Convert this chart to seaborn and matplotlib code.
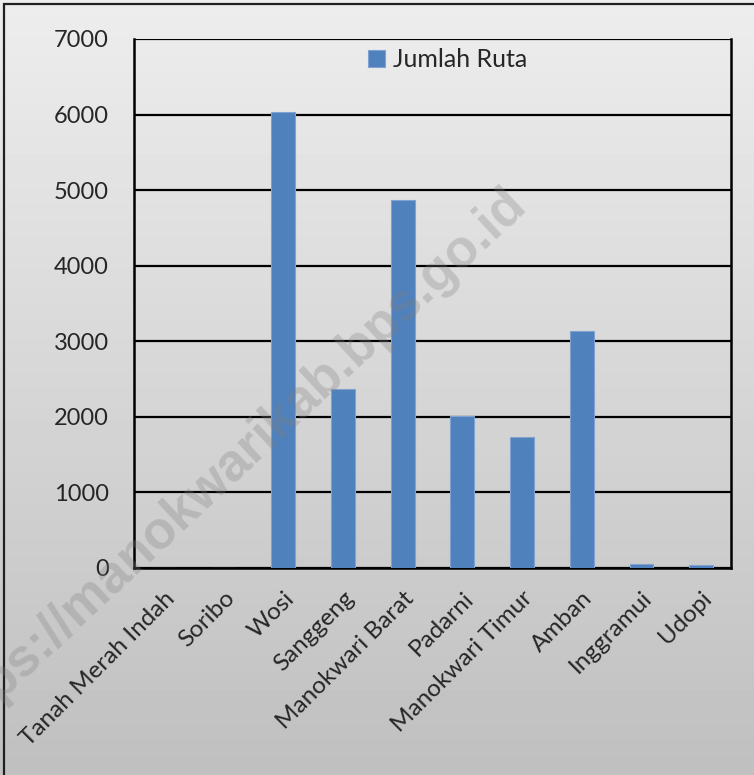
import numpy as np
import pandas as pd
import seaborn as sns
import matplotlib.pyplot as plt
from matplotlib.patches import Rectangle

sns.set_style('white')
plt.rcParams['font.family'] = ['Lato', 'DejaVu Sans']

distrik = ['Tanah Merah Indah', 'Soribo', 'Wosi', 'Sanggeng', 'Manokwari Barat',
           'Padarni', 'Manokwari Timur', 'Amban', 'Inggramui', 'Udopi']
jumlah_ruta = [3, 0, 6040, 2366, 4870, 2011, 1731, 3136, 55, 40]
y_ticks = [0, 1000, 2000, 3000, 4000, 5000, 6000, 7000]

df = pd.DataFrame({'Distrik': distrik, 'Jumlah Ruta': jumlah_ruta})

W, H = 754, 775
fig = plt.figure(figsize=(W / 100, H / 100), dpi=100)

# gradient background over the whole figure
bg = fig.add_axes([0, 0, 1, 1], zorder=-10)
grad = np.linspace(0.93, 0.75, 256).reshape(-1, 1)
bg.imshow(grad, aspect='auto', cmap='gray', vmin=0, vmax=1, extent=[0, 1, 0, 1])
bg.set_axis_off()
fig.add_artist(Rectangle((4 / W, -0.01), 1.05, 1 - 4 / H + 0.01, transform=fig.transFigure,
                         fill=False, edgecolor='#202020', linewidth=1.6))

ax = fig.add_axes([134 / W, 1 - 568 / H, (731 - 134) / W, (568 - 39) / H])
ax.patch.set_alpha(0)
sns.barplot(data=df, x='Distrik', y='Jumlah Ruta', color='#4F81BD', saturation=1,
            width=0.4, label='Jumlah Ruta', ax=ax, zorder=3,
            edgecolor='#7FA2D2', linewidth=0.8)

ax.set_ylim(0, 7000)
ax.set_yticks(y_ticks)
ax.set_xlim(-0.5, len(distrik) - 0.5)
ax.grid(axis='y', color='black', linewidth=1.6, zorder=1)
ax.set_axisbelow(True)
for s in ['left', 'bottom', 'right']:
    ax.spines[s].set_visible(True)
    ax.spines[s].set_color('black')
    ax.spines[s].set_linewidth(1.8)
ax.spines['top'].set_visible(False)
ax.set_xticks(np.arange(-0.5, len(distrik), 1), minor=True)
ax.tick_params(axis='x', which='major', length=0, pad=14)
ax.tick_params(axis='x', which='minor', length=7, width=1.6, color='black', direction='out')
ax.tick_params(axis='y', length=7, width=1.6, color='black', direction='out', labelsize=17, pad=11)
ax.set_xticklabels(distrik, rotation=45, ha='right', rotation_mode='anchor', fontsize=17.5)
ax.set_xlabel('')
ax.set_ylabel('')

leg = ax.legend(loc='upper center', bbox_to_anchor=(0.525, 1.025), frameon=False, fontsize=18,
                handlelength=0.7, handleheight=0.7, handletextpad=0.3)

# watermark, anchored at its right end
fig.text(518 / W, 1 - 197 / H, 'https://manokwarikab.bps.go.id', rotation=43,
         ha='right', va='center', rotation_mode='anchor', fontsize=38, fontweight='bold',
         family=['Liberation Sans Narrow', 'Liberation Sans', 'DejaVu Sans'],
         color='#808080', alpha=0.3, zorder=20)

fig.savefig('out.png', dpi=100)
